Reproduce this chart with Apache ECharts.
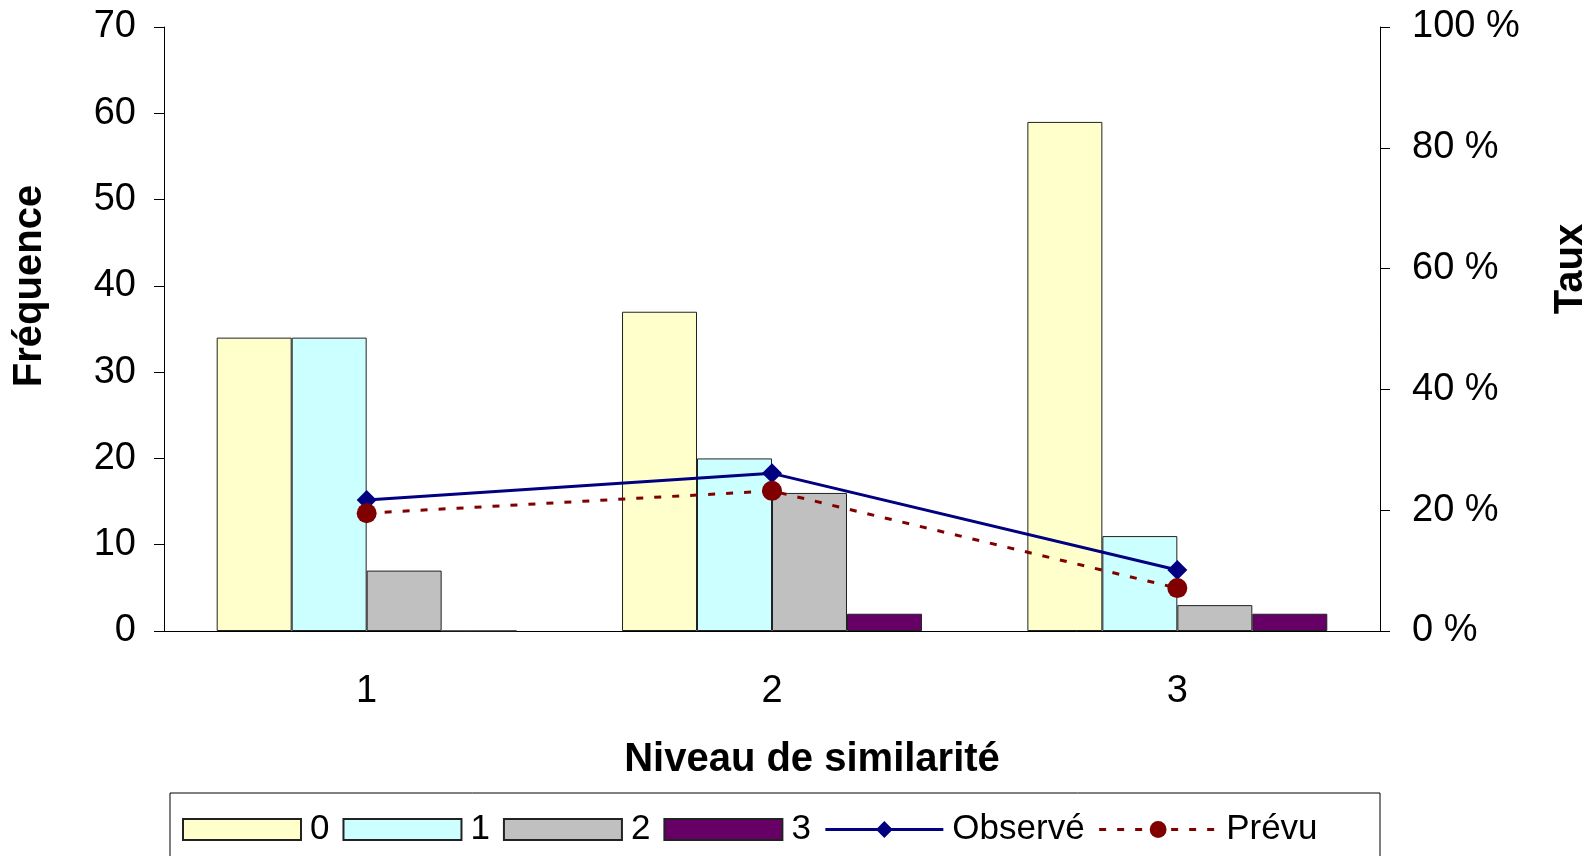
<!DOCTYPE html>
<html>
<head>
<meta charset="utf-8">
<style>
  html, body { margin: 0; padding: 0; background: #fff; }
  #chart { width: 1593px; height: 856px; }
</style>
<script src="https://cdn.jsdelivr.net/npm/echarts@6/dist/echarts.min.js"></script>
</head>
<body>
<div id="chart"></div>
<script>
// Similarity levels on the x axis
const categories = ['1', '2', '3'];

// Frequencies per score (left axis)
const freq0 = [34, 37, 59];
const freq1 = [34, 20, 11];
const freq2 = [7, 16, 3];
const freq3 = [0, 2, 2];

// Rates in percent (right axis)
const observe = [21.7, 26.1, 10.1];
const prevu = [19.5, 23.2, 7.1];

const FONT = '"Liberation Sans", Arial, sans-serif';

const chart = echarts.init(document.getElementById('chart'));

function barSeries(name, data, color) {
  return {
    name: name,
    type: 'bar',
    data: data,
    yAxisIndex: 0,
    barGap: '0%',
    barCategoryGap: '26%',
    itemStyle: { color: color, borderColor: '#222', borderWidth: 1 },
    emphasis: { disabled: true }
  };
}

chart.setOption({
  animation: false,
  backgroundColor: '#fff',
  textStyle: { fontFamily: FONT, color: '#000' },
  grid: { left: 164, right: 213, top: 27, bottom: 225, containLabel: false },
  legend: {
    left: 177,
    top: 807,
    itemWidth: 118,
    itemHeight: 21,
    itemGap: 13,
    lineStyle: { width: 3 },
    textStyle: { fontFamily: FONT, fontSize: 35, color: '#000', lineHeight: 34, padding: [0, 0, 0, 4] },
    data: [
      { name: '0', icon: 'rect' },
      { name: '1', icon: 'rect' },
      { name: '2', icon: 'rect' },
      { name: '3', icon: 'rect' },
      { name: 'Observé' },
      { name: 'Prévu' }
    ]
  },
  xAxis: {
    type: 'category',
    data: categories,
    axisLine: { lineStyle: { color: '#000', width: 1 } },
    axisTick: { show: false },
    axisLabel: { fontSize: 38, color: '#000', margin: 42, fontFamily: FONT }
  },
  yAxis: [
    {
      type: 'value',
      min: 0, max: 70, interval: 10,
      axisLine: { show: true, lineStyle: { color: '#000', width: 1 } },
      axisTick: { show: true, length: 10, lineStyle: { color: '#000' } },
      axisLabel: { fontSize: 38, color: '#000', margin: 28, fontFamily: FONT },
      splitLine: { show: false }
    },
    {
      type: 'value',
      min: 0, max: 100, interval: 20,
      position: 'right',
      axisLine: { show: true, lineStyle: { color: '#000', width: 1 } },
      axisTick: { show: true, length: 10, lineStyle: { color: '#000' } },
      axisLabel: { fontSize: 38, color: '#000', margin: 32, fontFamily: FONT, formatter: '{value} %' },
      splitLine: { show: false }
    }
  ],
  graphic: [
    {
      type: 'rect',
      shape: { x: 170, y: 793, width: 1210, height: 120 },
      style: { fill: 'none', stroke: '#000', lineWidth: 1 },
      silent: true
    },
    {
      type: 'text',
      x: 812, y: 760,
      style: { text: 'Niveau de similarité', font: 'bold 40px ' + FONT, fill: '#000', textAlign: 'center', textVerticalAlign: 'middle' }
    },
    {
      type: 'text',
      x: 30, y: 286, rotation: Math.PI / 2,
      style: { text: 'Fréquence', font: 'bold 40px ' + FONT, fill: '#000', textAlign: 'center', textVerticalAlign: 'middle' }
    },
    {
      type: 'text',
      x: 1571, y: 269, rotation: Math.PI / 2,
      style: { text: 'Taux', font: 'bold 40px ' + FONT, fill: '#000', textAlign: 'center', textVerticalAlign: 'middle' }
    }
  ],
  series: [
    barSeries('0', freq0, '#FFFFCC'),
    barSeries('1', freq1, '#CCFFFF'),
    barSeries('2', freq2, '#C0C0C0'),
    barSeries('3', freq3, '#660066'),
    {
      name: 'Observé',
      type: 'line',
      yAxisIndex: 1,
      data: observe,
      symbol: 'diamond',
      symbolSize: 20,
      lineStyle: { color: '#000080', width: 3 },
      itemStyle: { color: '#000080' },
      z: 5
    },
    {
      name: 'Prévu',
      type: 'line',
      yAxisIndex: 1,
      data: prevu,
      symbol: 'circle',
      symbolSize: 20,
      lineStyle: { color: '#800000', width: 3, type: [7, 11] },
      itemStyle: { color: '#800000' },
      z: 6
    }
  ]
});
</script>
</body>
</html>
